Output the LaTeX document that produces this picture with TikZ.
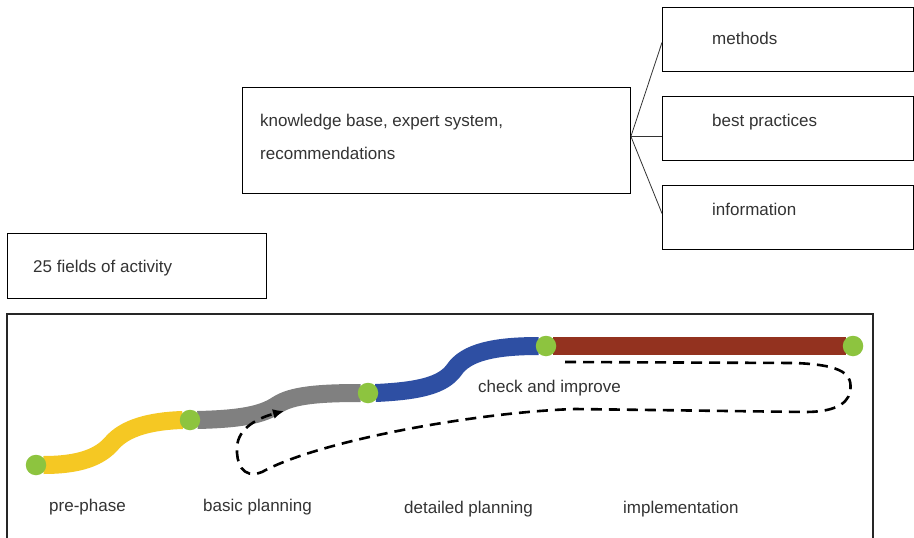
\documentclass[tikz,border=0pt]{standalone}
\usepackage{fontspec}
\setmainfont{Liberation Sans}
\usetikzlibrary{backgrounds,arrows.meta}
\definecolor{txt}{HTML}{333333}
\definecolor{dotgreen}{HTML}{8DC43F}
\definecolor{segyellow}{HTML}{F5C823}
\definecolor{seggray}{HTML}{808080}
\definecolor{segblue}{HTML}{2E4FA3}
\definecolor{segbrown}{HTML}{93321F}
\begin{document}
\begin{tikzpicture}[x=1pt,y=-1pt,
  box/.style={draw=black,line width=0.9pt,inner sep=0pt,anchor=north west},
  lbl/.style={anchor=base west,inner sep=0pt,text=txt,font=\fontsize{17}{20}\selectfont},
  dot/.style={circle,fill=dotgreen,minimum size=20.5pt,inner sep=0pt},
  seg/.style={line width=18pt,line cap=butt},
  loopline/.style={draw=black,line width=2.6pt,dash pattern=on 11pt off 7pt,-{Latex[length=11pt,width=10pt]}},
  link/.style={draw=black!80,line width=0.8pt}
]
\useasboundingbox (0,0) rectangle (914,538);
% boxes
\node[box,minimum width=388pt,minimum height=106pt] (kb) at (242,87) {};
\node[box,minimum width=251pt,minimum height=64pt] (methods) at (662,7) {};
\node[box,minimum width=251pt,minimum height=64pt] (best) at (662,96) {};
\node[box,minimum width=251pt,minimum height=64pt] (info) at (662,185) {};
\node[box,minimum width=259pt,minimum height=65pt] (fields) at (7,233) {};
% texts
\node[lbl] (kbt1) at (260,126) {knowledge base, expert system,};
\node[lbl] (kbt2) at (260,159) {recommendations};
\node[lbl] (mt) at (712,45) {methods};
\node[lbl] (bt) at (712,126) {best practices};
\node[lbl] (it) at (712,215) {information};
\node[lbl] (ft) at (33,272) {25 fields of activity};
% links
\coordinate (hub) at ([yshift=4pt]kb.east);
\draw[link] (hub) -- ([yshift=-3pt]methods.west);
\draw[link] (hub) -- ([yshift=-8pt]best.west);
\draw[link] (hub) -- ([yshift=4pt]info.west);
% big frame
\draw[black!85,line width=1.2pt] (7,540) -- (7,314) -- (873,314) -- (873,540);
% dots
\node[dot] (d1) at (36,465) {};
\node[dot] (d2) at (190,420) {};
\node[dot] (d3) at (368,393) {};
\node[dot] (d4) at (546,346) {};
\node[dot] (d5) at (853,346) {};
\begin{pgfonlayer}{background}
\fill[white] (0,0) rectangle (914,538);
\draw[seg,segyellow] ([xshift=-3pt]d1.east) .. controls (80,465) and (100,457) .. (112,443) .. controls (125,428) and (150,421) .. ([xshift=3pt]d2.west);
\draw[seg,seggray] ([xshift=-3pt]d2.east) .. controls (240,419) and (262,415) .. (277,405) .. controls (292,395) and (320,393) .. ([xshift=3pt]d3.west);
\draw[seg,segblue] ([xshift=-3pt]d3.east) .. controls (420,391) and (443,385) .. (454,370) .. controls (466,352) and (495,346) .. ([xshift=3pt]d4.west);
\draw[seg,segbrown] ([xshift=-3pt]d4.east) -- ([xshift=3pt]d5.west);
\end{pgfonlayer}
% loop
\coordinate (loopstart) at (565,362);
\coordinate (looptip) at (284,411);
\draw[loopline] (loopstart) -- (795,363) .. controls (845,365) and (853,375) .. (850,392) .. controls (847,406) and (830,412) .. (805,412) -- (575,409) .. controls (480,412) and (320,440) .. (262,472) .. controls (242,480) and (236,462) .. (237,447) .. controls (238,428) and (258,418) .. (looptip);
% phase labels
\node[lbl] (p1) at (49,511) {pre-phase};
\node[lbl] (p2) at (203,511) {basic planning};
\node[lbl] (p3) at (404,513) {detailed planning};
\node[lbl] (p4) at (623,513) {implementation};
\node[lbl] (ci) at (478,392) {check and improve};
\end{tikzpicture}
\end{document}
